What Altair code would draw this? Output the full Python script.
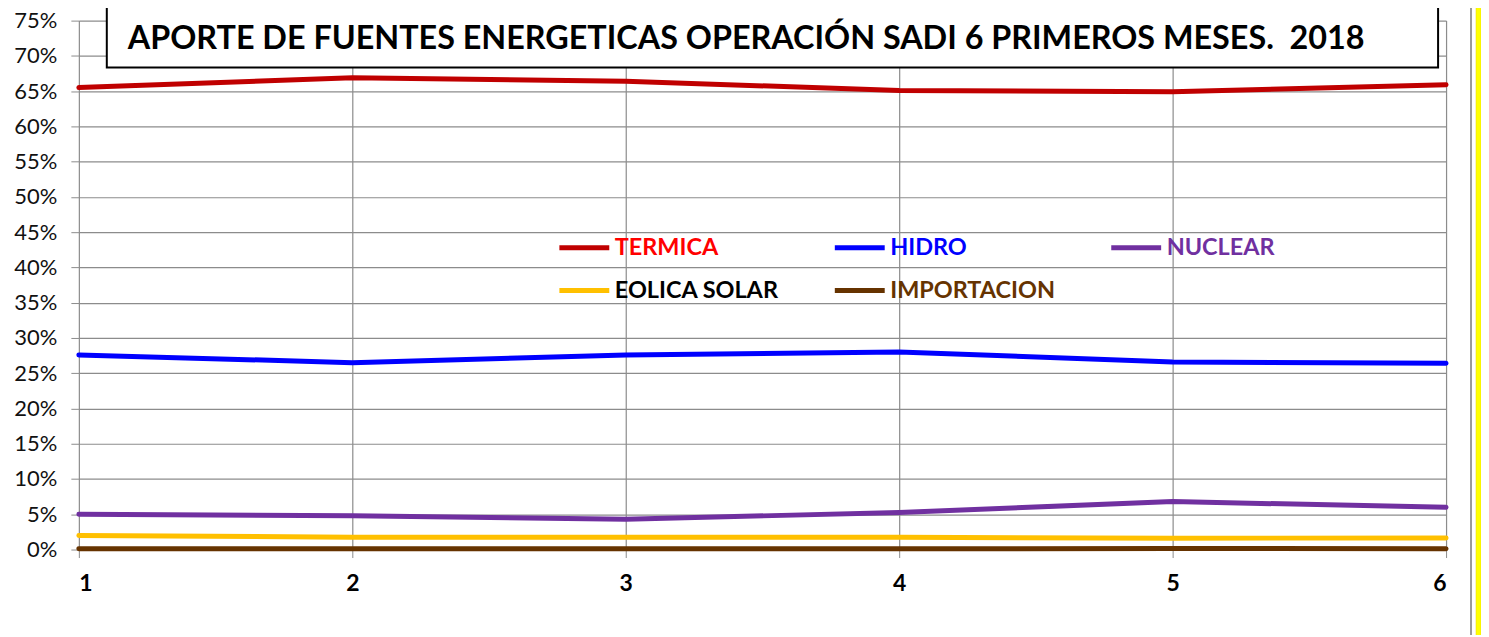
import altair as alt
import pandas as pd

meses = [1, 2, 3, 4, 5, 6]
series = ["TERMICA", "HIDRO", "NUCLEAR", "EOLICA SOLAR", "IMPORTACION"]
termica = [65.5, 66.9, 66.4, 65.1, 64.9, 65.9]
hidro = [27.6, 26.5, 27.6, 28.0, 26.6, 26.4]
nuclear = [5.0, 4.8, 4.3, 5.25, 6.8, 6.0]
eolica_solar = [2.0, 1.75, 1.75, 1.75, 1.6, 1.65]
importacion = [0.1, 0.1, 0.1, 0.1, 0.15, 0.1]
line_colors = ["#C00000", "#0000FF", "#7030A0", "#FFC000", "#663300"]
label_colors = ["#FF0000", "#0000FF", "#7030A0", "#000000", "#663300"]
y_ticks = list(range(0, 80, 5))
titulo = "APORTE DE FUENTES ENERGETICAS OPERACIÓN SADI 6 PRIMEROS MESES.\u00a0 2018"

rows = []
for name, vals in zip(series, [termica, hidro, nuclear, eolica_solar, importacion]):
    for m, v in zip(meses, vals):
        rows.append({"mes": m, "serie": name, "valor": v})
df = pd.DataFrame(rows)

W, H = 1370, 530
FONT = "Lato"
GRID = "#8c8c8c"

label_expr = "'black'"
for s, c in reversed(list(zip(series, label_colors))):
    label_expr = f"datum.label == '{s}' ? '{c}' : " + label_expr

frame = alt.Chart(pd.DataFrame({"a": [0]})).mark_rect(
    fill="white", fillOpacity=0, stroke="#9a9a9a", strokeWidth=2
).encode(x=alt.value(-76), x2=alt.value(1395), y=alt.value(-18), y2=alt.value(650))

yellow = alt.Chart(pd.DataFrame({"a": [0]})).mark_rect(
    fill="#FFFF00", stroke="#E6D800", strokeWidth=0.5
).encode(x=alt.value(1400), x2=alt.value(1405), y=alt.value(-20), y2=alt.value(650))

lines = alt.Chart(df).mark_line(strokeWidth=5, interpolate="linear", strokeCap="round").encode(
    x=alt.X(
        "mes:Q",
        scale=alt.Scale(domain=[1, 6], nice=False, zero=False),
        axis=alt.Axis(
            values=meses, format="d", title=None, grid=True, gridColor=GRID, gridWidth=1.2,
            domain=False, tickSize=8, tickColor=GRID, labelFont=FONT, labelFontSize=23,
            labelFontWeight="bold", labelColor="black", labelPadding=15,
        ),
    ),
    y=alt.Y(
        "valor:Q",
        scale=alt.Scale(domain=[0, 75], nice=False),
        axis=alt.Axis(
            values=y_ticks, labelExpr="datum.value + '%'", title=None, grid=True,
            gridColor=GRID, gridWidth=1.2, domain=False, tickSize=8, tickColor=GRID,
            labelFont=FONT, labelFontSize=22, labelFontWeight="normal", labelColor="#111111",
            labelPadding=14,
        ),
    ),
    color=alt.Color(
        "serie:N",
        scale=alt.Scale(domain=series, range=line_colors),
        sort=series,
        legend=alt.Legend(
            orient="none", legendX=479, legendY=200, columns=3, direction="horizontal",
            title=None, symbolType="stroke", symbolSize=2500, symbolStrokeWidth=5,
            labelFont=FONT, labelFontSize=23.5, labelFontWeight="bold",
            labelColor=alt.ExprRef(expr=label_expr), labelOffset=3,
            columnPadding=45, rowPadding=4, padding=0, labelLimit=400,
        ),
    ),
)

box = alt.Chart(pd.DataFrame({"t": [titulo]})).mark_rect(
    fill="white", stroke="black", strokeWidth=2
).encode(x=alt.value(28), x2=alt.value(1362), y=alt.value(-17), y2=alt.value(47))

title_text = alt.Chart(pd.DataFrame({"t": [titulo]})).mark_text(
    align="left", baseline="middle", font=FONT, fontSize=32.4, fontWeight="bold", color="black"
).encode(x=alt.value(49), y=alt.value(18), text="t:N")

chart = alt.layer(frame, yellow, lines, box, title_text).properties(
    width=W, height=H,
    autosize=alt.AutoSizeParams(type="none"),
    padding={"left": 71, "top": 12, "right": 35, "bottom": 85},
).configure_view(stroke=None)

chart.save("out.html", embed_options={"renderer": "svg", "actions": False})
